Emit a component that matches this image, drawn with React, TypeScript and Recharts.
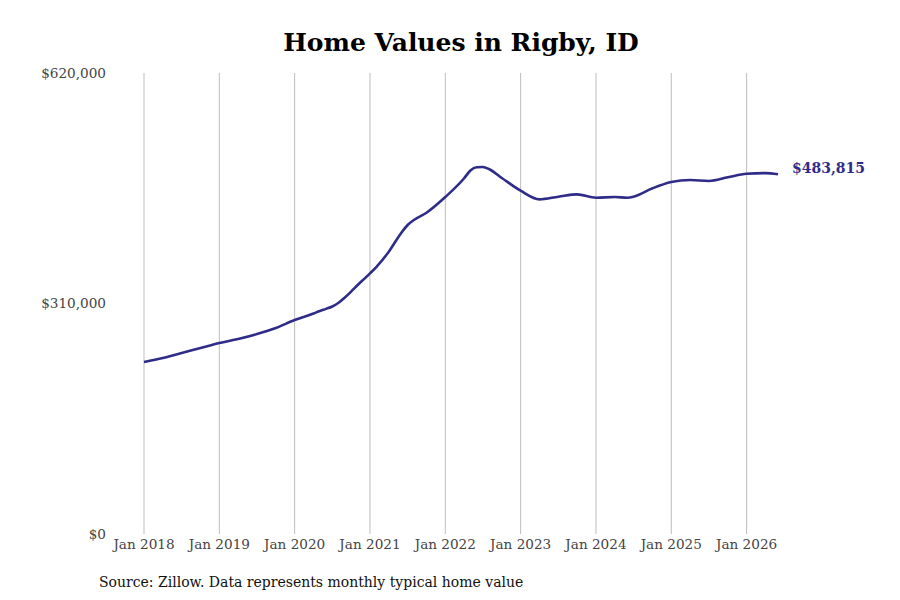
import { LineChart, Line, XAxis, YAxis, ReferenceLine } from "recharts";

// months counted from Jan 2018
const months = [0, 3, 6, 9, 12, 15, 18, 21, 24, 27, 28, 29, 30, 31, 32, 33, 34, 35, 36, 37, 39, 41, 42, 43, 45, 48, 51, 52, 53, 54, 55, 57, 60, 63, 66, 69, 72, 75, 77, 78, 81, 84, 87, 90, 93, 96, 99, 101];
const values = [
  231300, 236700, 243400, 250100, 256900, 262300, 269000, 277100, 287800, 296500,
  300000, 302800, 306000, 311000, 318000, 326000, 334500, 342500, 350500, 359000,
  379700, 405200, 415600, 422300, 432100, 453200, 478400, 489000, 493300, 493600,
  490500, 478800, 461700, 450100, 453600, 456800, 452300, 453200, 452300, 453600,
  464900, 473400, 476100, 474800, 479700, 484600, 485300, 483815,
];
const xTicks = [0, 12, 24, 36, 48, 60, 72, 84, 96];
const yTicks = [0, 310000, 620000];

const LINE = "#2f2c89";
const FONT = "'DejaVu Serif', serif";

const data = months.map((m, i) => ({ m, v: values[i] }));

const money = (v: number) => "$" + v.toLocaleString("en-US");

const EndLabel = (props: any) => {
  const { x, y, index } = props;
  if (index !== data.length - 1) return null;
  return (
    <text x={x + 14} y={y - 6} dy="0.35em" fill={LINE} fontSize={14} fontWeight="bold" fontFamily={FONT}>
      {money(values[values.length - 1])}
    </text>
  );
};

export default function App() {
  return (
    <div style={{ position: "absolute", left: 0, top: 0, width: 900, height: 600, background: "#fff", fontFamily: FONT }}>
      <div style={{ position: "absolute", left: 0, top: 28, width: 922, textAlign: "center", fontSize: 25, lineHeight: "30px", fontWeight: "bold", color: "#000" }}>
        Home Values in Rigby, ID
      </div>
      <LineChart width={900} height={600} data={data} margin={{ top: 73, right: 122, bottom: 36, left: 44 }}>
        {/* vertical grid at each January */}
        {xTicks.map((t) => (
          <ReferenceLine key={t} x={t} stroke="#bdbdbd" strokeWidth={1} />
        ))}
        <XAxis
          dataKey="m"
          type="number"
          domain={[0, 101]}
          ticks={xTicks}
          tickFormatter={(v: number) => "Jan " + (2018 + v / 12)}
          axisLine={false}
          tickLine={false}
          tickSize={0}
          tickMargin={5}
          height={30}
          tick={{ fill: "#444", fontSize: 13.6, fontFamily: FONT }}
        />
        <YAxis
          domain={[0, 620000]}
          ticks={yTicks}
          tickFormatter={money}
          axisLine={false}
          tickLine={false}
          tickSize={0}
          tickMargin={38}
          width={100}
          tick={{ fill: "#444", fontSize: 13.6, fontFamily: FONT }}
        />
        <Line
          type="monotone"
          dataKey="v"
          stroke={LINE}
          strokeWidth={2.6}
          dot={false}
          isAnimationActive={false}
          label={<EndLabel />}
        />
      </LineChart>
      <div style={{ position: "absolute", left: 99, top: 573, fontSize: 14, lineHeight: "18px", color: "#111" }}>
        Source: Zillow. Data represents monthly typical home value
      </div>
    </div>
  );
}
